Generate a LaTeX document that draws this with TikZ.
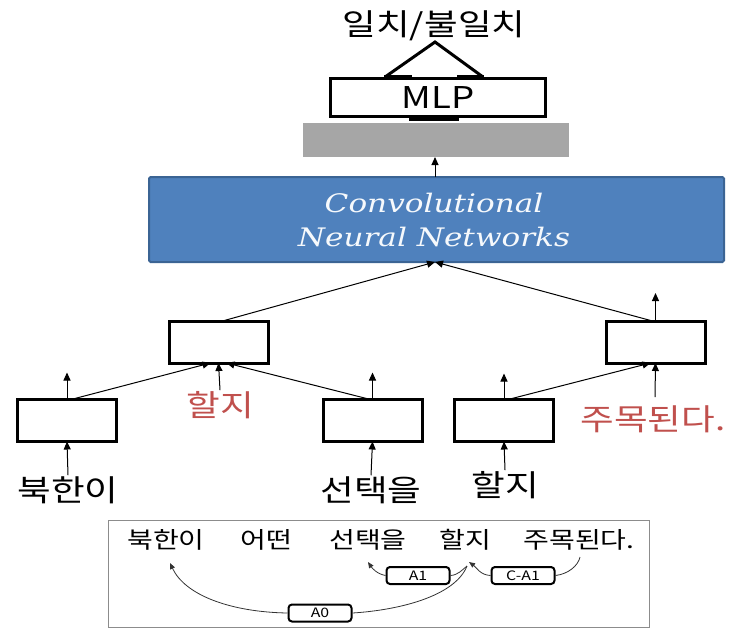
\documentclass[tikz,border=0pt]{standalone}
\usepackage{fontspec}
\newfontfamily\kr{Noto Sans CJK KR}[FakeStretch=1.22]
\newfontfamily\cnnfont{DejaVu Serif}[FakeStretch=1.22]
\usetikzlibrary{arrows.meta,calc}
\definecolor{cnnblue}{HTML}{4F81BD}
\definecolor{cnnedge}{HTML}{3B6494}
\definecolor{poolgray}{HTML}{A6A6A6}
\definecolor{focusred}{HTML}{C0504D}
\definecolor{framegray}{HTML}{8C8C8C}
\begin{document}
\begin{tikzpicture}[x=1pt,y=-1pt,
  cell/.style={draw, line width=3pt, minimum width=99pt, minimum height=42pt,
    inner sep=0pt, outer sep=0pt},
  word/.style={font=\kr\fontsize{30}{32}\selectfont, inner sep=1pt},
  redword/.style={word, text=focusred},
  small/.style={font=\kr\fontsize{23}{25}\selectfont, inner sep=1pt},
  tag/.style={draw, line width=2pt, rounded corners=3.5pt, minimum width=63pt,
    minimum height=17pt, inner sep=0pt, font=\kr\fontsize{13}{14}\selectfont},
  conn/.style={line width=1pt, -{Triangle[length=8pt,width=7pt]}},
  arc/.style={line width=0.8pt, draw=black!80},
  arcend/.style={arc, -{Triangle[length=6pt,width=5pt]}},
]
\useasboundingbox (0,0) rectangle (735,630);

% ---------- output head ----------
\node[font=\kr\fontsize{30}{32}\selectfont, inner sep=0pt] (out) at (434,26) {일치/불일치};
\node[draw, line width=3pt, minimum width=215pt, minimum height=38pt, inner sep=0pt,
  outer sep=0pt, font=\kr\fontsize{30}{32}\selectfont] (mlp) at (438,97) {MLP};
\coordinate (apex) at (435,42);
\coordinate (tl) at (385,77);
\coordinate (tr) at (483,77);
\draw[line width=3pt, line join=miter] (tl) -- (apex) -- (tr);
\fill (384,75) rectangle (412,80);
\fill (457,75) rectangle (484,80);
\fill (409,116) rectangle (459,121);

\node[fill=poolgray, minimum width=266pt, minimum height=34pt, inner sep=0pt,
  outer sep=0pt] (pool) at (436,140) {};

% ---------- CNN block ----------
\node[draw=cnnedge, line width=2pt, fill=cnnblue, rounded corners=1.5pt,
  minimum width=575pt, minimum height=85pt, inner sep=0pt, outer sep=0pt] (cnn) at (436.5,219.5) {};
\node[text=white!95!cnnblue, align=center,
  font=\cnnfont\itshape\fontsize{25.5}{34}\selectfont] (cnntxt) at (434,220)
  {Convolutional\\Neural Networks};
\draw[conn] ($(cnn.north)+(-1.5,0)$) -- ($(pool.south)+(-1,0)$);

% ---------- tree cells ----------
\node[cell] (m1) at (218.5,342) {};
\node[cell] (m2) at (655.5,342) {};
\node[cell] (b1) at (67,420.5) {};
\node[cell] (b2) at (372.5,420.5) {};
\node[cell] (b3) at (504,420.5) {};

\node[word] (w1) at (68,490) {북한이};
\node[word] (w2) at (371,490) {선택을};
\node[word] (w3) at (505,485) {할지};
\node[redword] (r1) at (220,405) {할지};
\node[redword] (r2) at (653,419) {주목된다.};

% inputs into the lower cells
\draw[conn] (w1.north) -- (b1.south);
\draw[conn] (w2.north) -- (b2.south);
\draw[conn] (w3.north) -- (b3.south);

% lower cells upward
\coordinate (u1) at ($(b1.north)+(0,-27)$);
\coordinate (u2) at ($(b2.north)+(0,-27)$);
\coordinate (u3) at ($(b3.north)+(0,-26)$);
\coordinate (u4) at ($(m2.north)+(0,-28)$);
\draw[conn] (b1.north) -- (u1);
\draw[conn] (b2.north) -- (u2);
\draw[conn] (b3.north) -- (u3);
\draw[conn] (m2.north) -- (u4);

% composition into the upper cells
\draw[conn] ($(b1.north)+(4,0)$) -- ($(m1.south)+(-8,0)$);
\draw[conn] ($(b2.north)+(-2,0)$) -- ($(m1.south)+(8,0)$);
\draw[conn] (r1.north) -- (m1.south);
\draw[conn] ($(b3.north)+(4,0)$) -- ($(m2.south)+(-5,0)$);
\coordinate (r2top) at (655,397);
\draw[conn] (r2top) -- (m2.south);

% upper cells into the CNN
\draw[conn] ($(m1.north)+(4,0)$) -- ($(cnn.south)+(-1.5,0)$);
\draw[conn] ($(m2.north)+(-3,0)$) -- ($(cnn.south)+(-1.5,0)$);

% ---------- SRL example ----------
\node[draw=framegray, line width=1.3pt, minimum width=541pt, minimum height=107pt,
  inner sep=0pt, outer sep=0pt] (frame) at (379,574) {};
\node[small] (s1) at (166,540) {북한이};
\node[small] (s2) at (266,540) {어떤};
\node[small] (s3) at (368,540) {선택을};
\node[small] (s4) at (465,540) {할지};
\node[small] (s5) at (579,540) {주목된다.};

\node[tag] (a0) at (320,613) {A0};
\node[tag] (a1) at (418,575.5) {A1};
\node[tag] (ca1) at (523,575.5) {C-A1};

\coordinate (s1in) at (170,563);
\coordinate (s3in) at (368,562);
\coordinate (s4in) at (469,562);
\coordinate (s4out) at (467,566);
\coordinate (s5out) at (580,557);

\draw[arc] (s4out) .. controls (455,596) and (400,610) .. (a0.east);
\draw[arcend] (a0.west) .. controls (230,612) and (185,595) .. (s1in);
\draw[arc] (s4out) .. controls (462,570) and (458,575) .. (a1.east);
\draw[arcend] (a1.west) .. controls (377,574) and (372,568) .. (s3in);
\draw[arc] (s5out) .. controls (578,566) and (568,574) .. (ca1.east);
\draw[arcend] (ca1.west) .. controls (480,575) and (476,567) .. (s4in);
\end{tikzpicture}
\end{document}
